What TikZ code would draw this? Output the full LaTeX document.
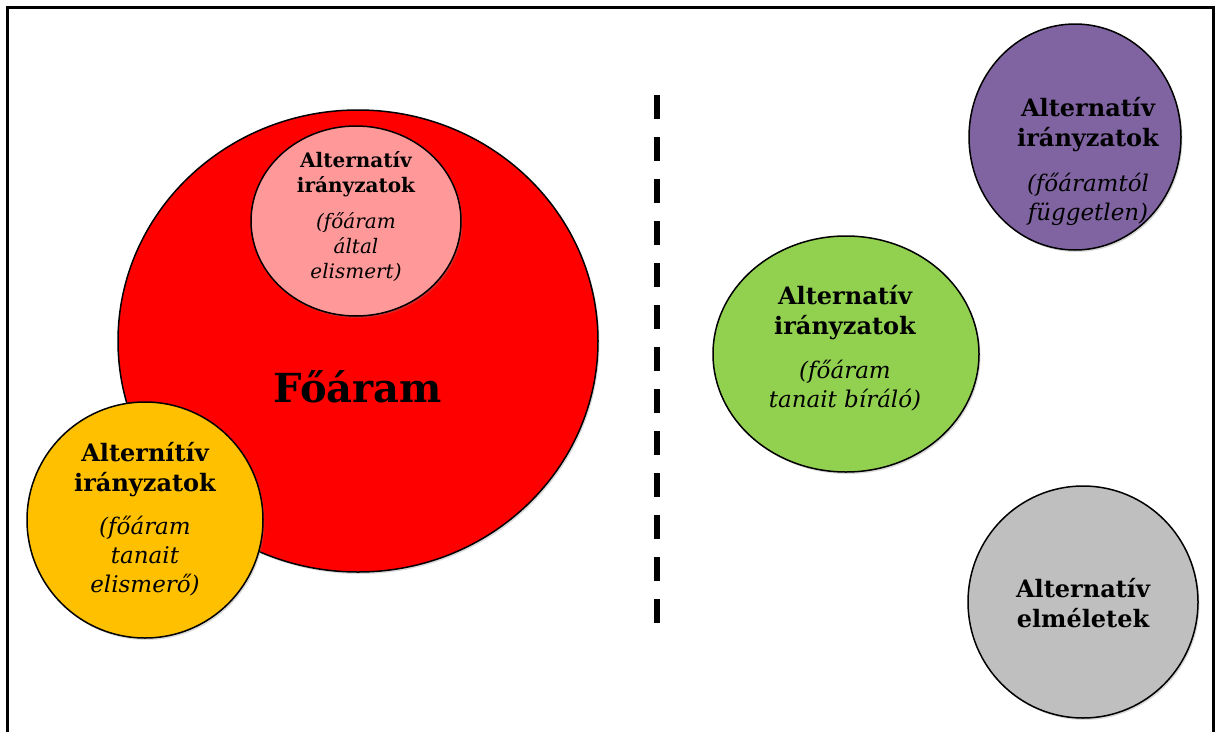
\documentclass[tikz,border=0pt]{standalone}
\usepackage{fontspec}
\setmainfont{DejaVu Serif}
\usetikzlibrary{positioning,shapes.geometric,shadows}

\definecolor{mainred}{RGB}{255,0,0}
\definecolor{softpink}{RGB}{255,153,153}
\definecolor{goldyellow}{RGB}{255,192,0}
\definecolor{leafgreen}{RGB}{146,208,80}
\definecolor{plum}{RGB}{128,100,162}
\definecolor{ashgray}{RGB}{191,191,191}

\tikzset{
  blob/.style={ellipse, draw=black, line width=1.5pt, inner sep=0pt,
    drop shadow={opacity=0.3, shadow xshift=1.5pt, shadow yshift=-2pt}},
  bighead/.style={align=center, inner sep=0pt, font=\bfseries\fontsize{24}{30}\selectfont},
  bignote/.style={align=center, inner sep=0pt, font=\itshape\fontsize{23}{29}\selectfont},
  smallhead/.style={align=center, inner sep=0pt, font=\bfseries\fontsize{20}{25}\selectfont},
  smallnote/.style={align=center, inner sep=0pt, font=\itshape\fontsize{20}{25}\selectfont},
}

\begin{document}
\begin{tikzpicture}[x=1pt,y=-1pt]
\useasboundingbox (0,0) rectangle (1218,731);

%Frame
\draw [line width=3pt] (7,7) rectangle (1213,760);

%Dashed divider
\coordinate (divtop) at (657,95);
\coordinate (divbot) at (657,623);
\draw [line width=6pt, dash pattern=on 24pt off 18pt] (divtop) -- (divbot);

%Ellipses
\node [blob, fill=mainred, minimum width=480pt, minimum height=462pt] (main) at (358,341) {};
\node [blob, fill=softpink, minimum width=210pt, minimum height=190pt] (inner) at (356,221) {};
\node [blob, fill=goldyellow, minimum width=236pt, minimum height=236pt] (accept) at (145,520) {};
\node [blob, fill=leafgreen, minimum width=266pt, minimum height=236pt] (critic) at (846,354) {};
\node [blob, fill=plum, minimum width=212pt, minimum height=226pt] (indep) at (1075,137) {};
\node [blob, fill=ashgray, minimum width=230pt, minimum height=232pt] (theory) at (1083,602) {};

% Text Node
\node [font=\bfseries\fontsize{40}{46}\selectfont, inner sep=0pt] (maintxt) at (358,387) {Főáram};
% Text Node
\node [smallhead] (innerhead) at (356,174) {Alternatív\\irányzatok};
\node [smallnote, below=15pt of innerhead] (innernote) {(főáram\\által\\elismert)};
% Text Node
\node [bighead] (accepthead) at (145,470) {Alternítív\\irányzatok};
\node [bignote, below=18pt of accepthead] (acceptnote) {(főáram\\tanait\\elismerő)};
% Text Node
\node [bighead] (critichead) at (845,313) {Alternatív\\irányzatok};
\node [bignote, below=19pt of critichead] (criticnote) {(főáram\\tanait bíráló)};
% Text Node
\node [bighead] (indephead) at (1088,125) {Alternatív\\irányzatok};
\node [bignote, below=20pt of indephead] (indepnote) {(főáramtól\\független)};
% Text Node
\node [bighead] (theoryhead) at (1083,603) {Alternatív\\elméletek};

\end{tikzpicture}
\end{document}
